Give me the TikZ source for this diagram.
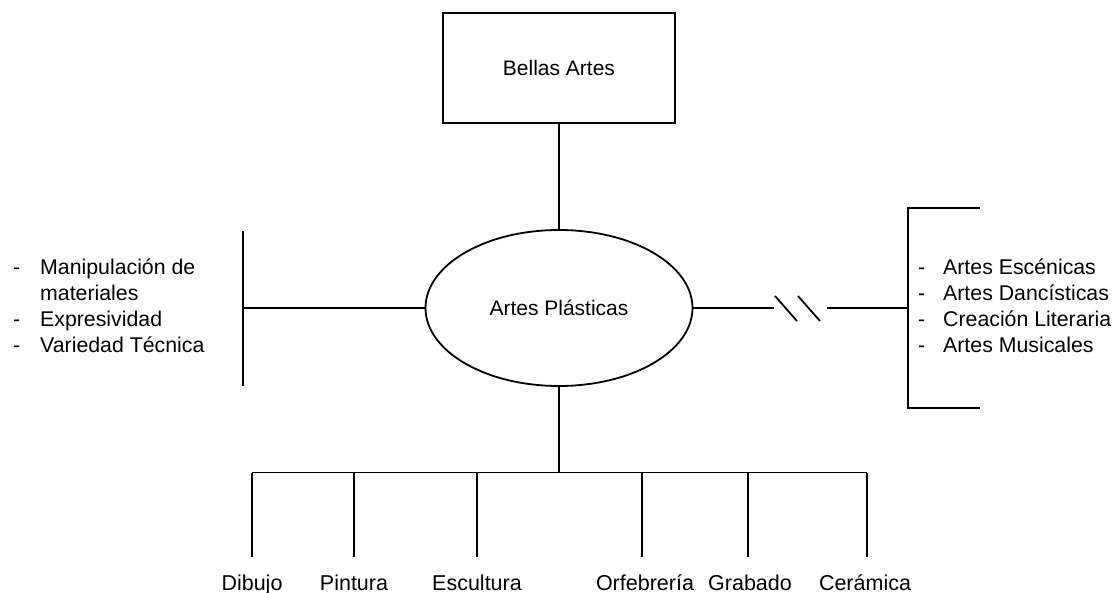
\documentclass[tikz,border=0pt]{standalone}
\usepackage{fontspec}
\setmainfont{Liberation Sans}
\usepackage{tikz}
\usetikzlibrary{shapes.geometric}
\tikzstyle{ln}=[line width=1.8pt]
\tikzstyle{bx}=[shape=rectangle,draw,line width=1.8pt,minimum width=232pt,minimum height=110pt,font=\fontsize{21}{25}\selectfont]
\tikzstyle{ov}=[shape=ellipse,draw,line width=1.8pt,minimum width=267pt,minimum height=156pt,inner sep=0pt,font=\fontsize{21}{25}\selectfont]
\tikzstyle{lst}=[anchor=west,inner sep=0pt,font=\fontsize{21.3}{26}\selectfont]
\tikzstyle{leaf}=[anchor=base,inner sep=0pt,text height=15pt,font=\fontsize{21.5}{24}\selectfont]

\begin{document}
\begin{tikzpicture}[x=1pt,y=-1pt]
        \useasboundingbox (0,0) rectangle (1118,593);
        \node[bx] (bellas) at (559,68) {Bellas Artes};
        \node[ov] (plast) at (559,308) {Artes Plásticas}
            edge[ln] (bellas)
        ;
        \coordinate (lt) at (243,231);
        \coordinate (lj) at (243,308);
        \coordinate (lb) at (243,386);
        \draw[ln] (lt) -- (lb);
        \draw[ln] (plast) -- (lj);
        \node[lst] (props) at (13,308) {\begin{tabular}{@{}p{27pt}@{}l@{}}
            - & Manipulación de\\
              & materiales\\
            - & Expresividad\\
            - & Variedad Técnica
        \end{tabular}};
        \coordinate (c1) at (774,308);
        \coordinate (c2) at (827,308);
        \coordinate (s1a) at (775,296);
        \coordinate (s1b) at (797,321);
        \coordinate (s2a) at (798,296);
        \coordinate (s2b) at (820,321);
        \coordinate (rt) at (980,208);
        \coordinate (rj) at (908,308);
        \coordinate (rb) at (980,408);
        \draw[ln] (plast) -- (c1);
        \draw[ln] (s1a) -- (s1b);
        \draw[ln] (s2a) -- (s2b);
        \draw[ln] (c2) -- (rj);
        \draw[ln] (rt) -| (rj) |- (rb);
        \node[lst] (otras) at (918,308) {\begin{tabular}{@{}p{25pt}@{}l@{}}
            - & Artes Escénicas\\
            - & Artes Dancísticas\\
            - & Creación Literaria\\
            - & Artes Musicales
        \end{tabular}};
        \coordinate (barl) at (252,472.5);
        \coordinate (barm) at (559,472.5);
        \coordinate (barr) at (867,472.5);
        \draw[ln] (plast) -- (barm);
        \draw[ln] (barl) -- (barr);
        \foreach \x/\n/\t in {252/dib/Dibujo, 354/pin/Pintura, 477/esc/Escultura, 645/orf/Orfebrería, 750/gra/Grabado, 865/cer/Cerámica} {
            \node[leaf] (\n) at (\x,590) {\t};
        }
        \foreach \x/\n in {252/dib, 354/pin, 477/esc, 642/orf, 748/gra, 867/cer} {
            \coordinate (\n-t) at (\x,472.5);
            \coordinate (\n-b) at (\x,557);
            \draw[ln] (\n-t) -- (\n-b);
        }
    \end{tikzpicture}
\end{document}
